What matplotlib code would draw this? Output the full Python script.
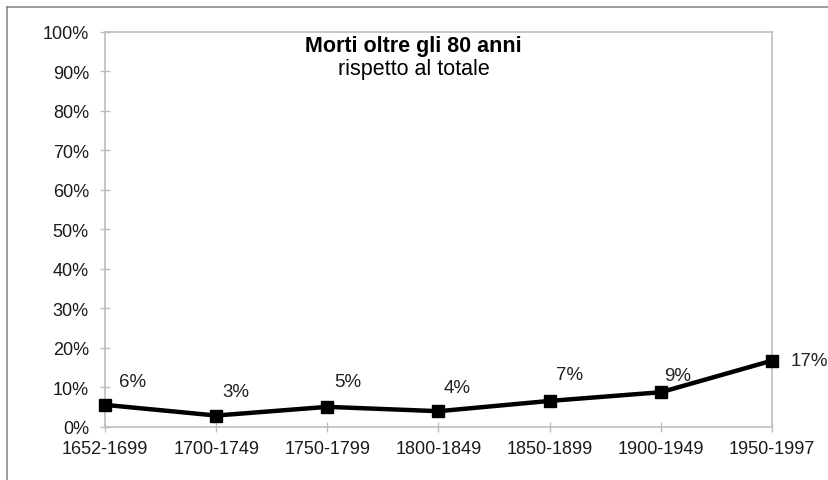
import matplotlib
matplotlib.use("Agg")
import matplotlib.pyplot as plt
from matplotlib.lines import Line2D
from matplotlib.ticker import FuncFormatter

plt.rcParams['font.family'] = ['Liberation Sans', 'DejaVu Sans']

categories = ["1652-1699", "1700-1749", "1750-1799", "1800-1849", "1850-1899", "1900-1949", "1950-1997"]
values = [5.6, 2.9, 5.1, 4.0, 6.6, 8.8, 16.8]
labels = ["6%", "3%", "5%", "4%", "7%", "9%", "17%"]
yticks = [0, 10, 20, 30, 40, 50, 60, 70, 80, 90, 100]
title_main = "Morti oltre gli 80 anni"
title_sub = "rispetto al totale"

# label placement (pixels, styling only)
label_offsets = [(28, 23), (20, 24), (20, 25), (19, 24), (20, 26), (17, 17), (19, 0)]

fig = plt.figure(figsize=(8.29, 4.81), dpi=100)
ax = fig.add_axes([0.1267, 0.1102, 0.8045, 0.8212])

x = list(range(len(categories)))
ax.plot(x, values, color='black', lw=3.2, marker='s', markersize=9, zorder=5, clip_on=False)

for i, (v, lab) in enumerate(zip(values, labels)):
    dx, dy = label_offsets[i]
    if i == len(values) - 1:
        ax.annotate(lab, (i, v), xytext=(dx, dy), textcoords='offset pixels',
                    ha='left', va='center', fontsize=13.5, color='#222222')
    else:
        ax.annotate(lab, (i, v), xytext=(dx, dy), textcoords='offset pixels',
                    ha='center', va='center', fontsize=13.5, color='#222222')

ax.set_xlim(0, len(categories) - 1)
ax.set_ylim(0, 100)
ax.set_xticks(x)
ax.set_xticklabels(categories)
ax.set_yticks(yticks)
ax.yaxis.set_major_formatter(FuncFormatter(lambda v, p: f"{int(v)}%"))

spine_col = '#BEBEBE'
for s in ax.spines.values():
    s.set_color(spine_col)
    s.set_linewidth(1.2)
ax.tick_params(axis='both', direction='inout', length=7.2, width=1.0, color=spine_col,
               labelsize=13, labelcolor='#1a1a1a')
ax.tick_params(axis='y', pad=8)
ax.tick_params(axis='x', pad=6)

ax.text(0.4625, 0.965, title_main, transform=ax.transAxes, ha='center', va='center',
        fontsize=15.5, fontweight='bold', color='black')
ax.text(0.4625, 0.907, title_sub, transform=ax.transAxes, ha='center', va='center',
        fontsize=15.5, color='black')

# outer frame (left and top edges)
fig.add_artist(Line2D([7/829, 7/829], [0, 1 - 8/481], transform=fig.transFigure, color='#808080', lw=1.1))
fig.add_artist(Line2D([7/829, 1], [1 - 8/481, 1 - 8/481], transform=fig.transFigure, color='#808080', lw=1.1))

fig.savefig("out.png", dpi=100)
